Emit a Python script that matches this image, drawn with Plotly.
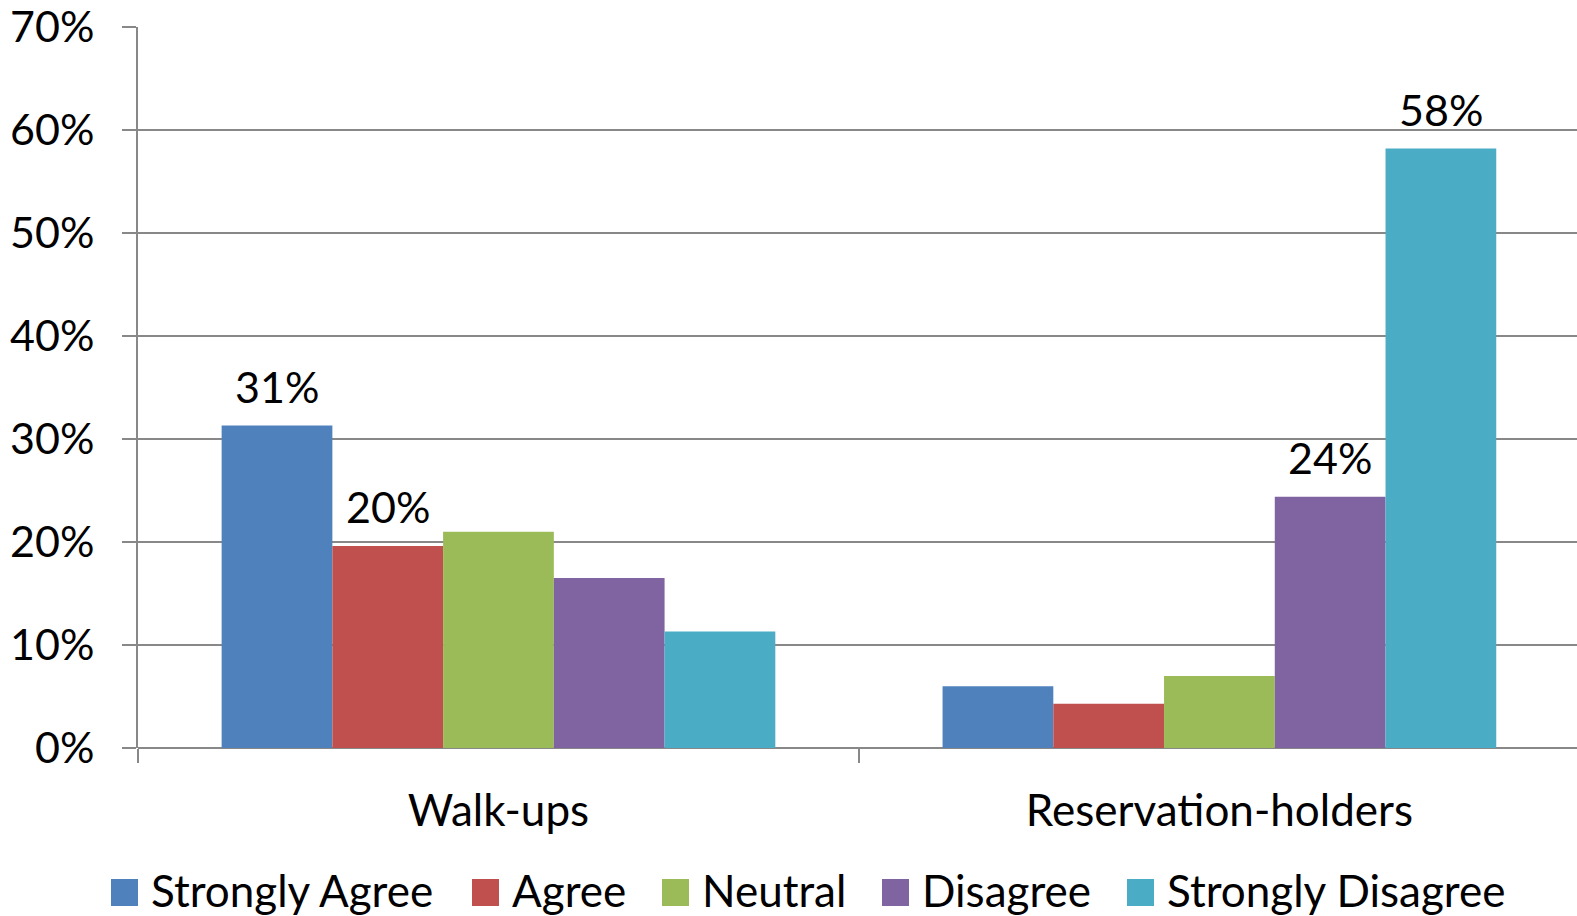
import plotly.graph_objects as go

groups = ["Walk-ups", "Reservation-holders"]
responses = ["Strongly Agree", "Agree", "Neutral", "Disagree", "Strongly Disagree"]
colors = ["#4F81BD", "#C0504D", "#9BBB59", "#8064A2", "#4BACC6"]

# share of respondents per response, [Walk-ups, Reservation-holders]
strongly_agree = [0.313, 0.060]
agree = [0.196, 0.043]
neutral = [0.210, 0.070]
disagree = [0.165, 0.244]
strongly_disagree = [0.113, 0.582]
series_values = [strongly_agree, agree, neutral, disagree, strongly_disagree]

# which bars carry a value label
labelled = [[True, False], [True, False], [False, False], [False, True], [False, True]]

y_ticks = [0, 0.1, 0.2, 0.3, 0.4, 0.5, 0.6, 0.7]

FONT = "Lato, Carlito, Calibri, sans-serif"
GRID = "#888888"

W, H = 1577, 916
ML, MR, MT, MB = 138, 0, 27, 168
BARGAP = 0.232
X_RANGE = [-0.5, 1.496]
plot_w = W - ML - MR
cat_px = plot_w / (X_RANGE[1] - X_RANGE[0])
bar_px = cat_px * (1 - BARGAP) / len(responses)

fig = go.Figure()
for name, vals, col in zip(responses, series_values, colors):
    fig.add_trace(go.Bar(
        name=name,
        x=groups,
        y=vals,
        marker=dict(color=col, line=dict(width=0)),
        showlegend=False,
    ))

annotations = []
# value labels above selected bars
for i, (vals, lab) in enumerate(zip(series_values, labelled)):
    for g, v, show in zip(groups, vals, lab):
        if show:
            annotations.append(dict(
                x=g, y=v, xref="x", yref="y",
                text=f"{v:.0%}", showarrow=False,
                xanchor="center", yanchor="bottom",
                xshift=(i - (len(responses) - 1) / 2) * bar_px,
                yshift=12,
                font=dict(size=43, family=FONT, color="black"),
            ))

# legend row below the axis
legend_box_left = [111, 472, 662, 882, 1127]
shapes = []
for name, col, px in zip(responses, colors, legend_box_left):
    shapes.append(dict(
        type="rect", xref="paper", yref="paper",
        xsizemode="pixel", ysizemode="pixel", xanchor=0, yanchor=0,
        x0=px - ML, x1=px - ML + 27, y0=-158, y1=-131,
        fillcolor=col, line=dict(width=0),
    ))
    annotations.append(dict(
        x=0, y=0, xref="paper", yref="paper",
        xshift=px - ML + 38, yshift=-142,
        xanchor="left", yanchor="middle",
        text=name, showarrow=False,
        font=dict(size=44, family=FONT, color="black"),
    ))

fig.update_layout(
    barmode="group",
    bargap=BARGAP,
    bargroupgap=0,
    width=W,
    height=H,
    margin=dict(l=ML, r=MR, t=MT, b=MB, autoexpand=False),
    paper_bgcolor="white",
    plot_bgcolor="white",
    font=dict(family=FONT, color="black", size=43),
    showlegend=False,
    annotations=annotations,
    shapes=shapes,
    xaxis=dict(
        range=X_RANGE,
        showgrid=False,
        showline=False,
        ticks="outside",
        tickson="boundaries",
        ticklen=14,
        tickwidth=2,
        tickcolor=GRID,
        tickfont=dict(size=44, family=FONT),
        ticklabelstandoff=33,
    ),
    yaxis=dict(
        range=[0, 0.7],
        tickvals=y_ticks,
        tickformat=".0%",
        showgrid=True,
        gridcolor=GRID,
        gridwidth=2,
        zeroline=True,
        zerolinecolor=GRID,
        zerolinewidth=2,
        showline=True,
        linecolor=GRID,
        linewidth=2,
        ticks="outside",
        ticklen=14,
        tickwidth=2,
        tickcolor=GRID,
        tickfont=dict(size=43, family=FONT),
        ticklabelstandoff=19,
    ),
)

fig.write_html("out.html")
